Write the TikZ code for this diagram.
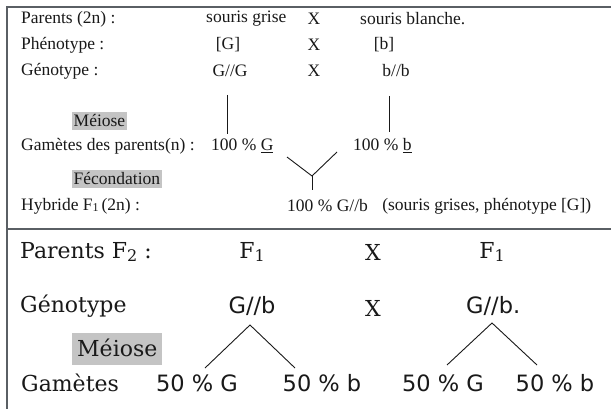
\documentclass[tikz,border=0pt]{standalone}
\usepackage{fontspec}
\setmainfont{Liberation Serif}
\newfontfamily\bigserif{DejaVu Serif}
\newfontfamily\bigsans{DejaVu Sans}
\definecolor{hlgray}{RGB}{196,196,196}
\definecolor{frame}{RGB}{90,95,100}
\definecolor{ink}{RGB}{25,25,25}
\begin{document}
\begin{tikzpicture}[x=1pt,y=-1pt,
  every node/.style={inner sep=0pt, text=ink},
  sm/.style={font=\fontsize{17.5}{20}\selectfont},
  smw/.style={sm, anchor=west},
  smhl/.style={sm, anchor=west, fill=hlgray, inner xsep=1.5pt, inner ysep=2.5pt},
  bg/.style={font=\bigserif\fontsize{22}{26}\selectfont},
  bgw/.style={bg, anchor=west},
  bs/.style={font=\bigsans\fontsize{22.5}{26}\selectfont},
  ln/.style={draw=ink, line width=0.9pt},
  border/.style={draw=frame, line width=1.5pt}
]
\useasboundingbox (0,0) rectangle (611,412);
\fill[white] (0,0) rectangle (611,412);
% frame
\coordinate (tl) at (7,7);
\coordinate (tr) at (611,7);
\coordinate (bl) at (7,409);
\coordinate (ml) at (7,229);
\coordinate (mr) at (611,229);
\draw[border] (tr) -- (tl) -- (bl);
\draw[border] (ml) -- (mr);

% ---- top part ----
\node[smw] (p1lab) at (21,19) {Parents (2n) :};
\node[smw] (p1a) at (206,19) {souris grise};
\node[sm] (p1x) at (314,19) {X};
\node[smw] (p1b) at (360,19) {souris blanche.};

\node[smw] (phlab) at (21,45) {Phénotype :};
\node[sm] (phG) at (228,45) {[G]};
\node[sm] (phX) at (314,45) {X};
\node[sm] (phb) at (384,45) {[b]};

\node[smw] (gnlab) at (21,71) {Génotype :};
\node[sm] (gnG) at (230,71) {G//G};
\node[sm] (gnX) at (314,71) {X};
\node[sm] (gnb) at (396,71) {b//b};

\node[smhl] (mei1) at (72,121) {Méiose};

\node[smw] (gamlab) at (21,146) {Gamètes des parents(n) :};
\node[smw] (gamG) at (211,146) {100 \% \underline{G}};
\node[smw] (gamb) at (353,146) {100 \% \underline{b}};

\node[smhl] (fec) at (72,179) {Fécondation};

\node[smw] (hylab) at (21,206) {Hybride F\raisebox{-1.5pt}{\fontsize{12}{12}\selectfont 1}\,(2n) :};
\node[smw] (hyG) at (287,206) {100 \% G//b};
\node[smw, anchor=west] (hytxt) at ([xshift=14pt]hyG.east) {(souris grises, phénotype [G])};

% vertical meiosis lines
\coordinate (vlt) at (227,95);
\coordinate (vlb) at (227,134);
\coordinate (vrt) at (389,96);
\coordinate (vrb) at (389,132);
\draw[ln] (vlt) -- (vlb);
\draw[ln] (vrt) -- (vrb);

% Y of fertilisation
\coordinate (yl) at (287,157);
\coordinate (yr) at (337,152);
\coordinate (yj) at (312,176);
\coordinate (ys) at (312,190);
\draw[ln] (yl) -- (yj) -- (yr);
\draw[ln] (yj) -- (ys);

% ---- bottom part ----
\node[bgw] (p2lab) at (20,252) {Parents F\raisebox{-3pt}{\fontsize{16}{16}\selectfont 2} :};
\node[bg] (f1a) at (252,252) {F\raisebox{-3pt}{\fontsize{16}{16}\selectfont 1}};
\node[bg] (p2x) at (373,252) {X};
\node[bg] (f1b) at (492,252) {F\raisebox{-3pt}{\fontsize{16}{16}\selectfont 1}};

\node[bgw] (g2lab) at (20,306) {Génotype};
\node[bs] (g2a) at (252,306) {G//b};
\node[bg] (g2x) at (373,308) {X};
\node[bs, anchor=west] (g2b) at (466,306) {G//b.};

\node[bg, anchor=west, fill=hlgray, inner xsep=5pt, inner ysep=8pt, text height=15pt, text depth=1pt] (mei2) at (72,349) {Méiose};

\node[bgw] (gam2lab) at (21,383) {Gamètes};
\node[bs] (ga1) at (197,383) {50 \% G};
\node[bs] (ga2) at (322,383) {50 \% b};
\node[bs] (ga3) at (443,383) {50 \% G};
\node[bs] (ga4) at (555,383) {50 \% b};

% meiosis branches
\coordinate (la) at (250,325);
\coordinate (ll) at (205,368);
\coordinate (lr) at (295,368);
\coordinate (ra) at (492,323);
\coordinate (rl) at (447,365);
\coordinate (rr) at (537,365);
\draw[ln] (ll) -- (la) -- (lr);
\draw[ln] (rl) -- (ra) -- (rr);
\end{tikzpicture}
\end{document}
